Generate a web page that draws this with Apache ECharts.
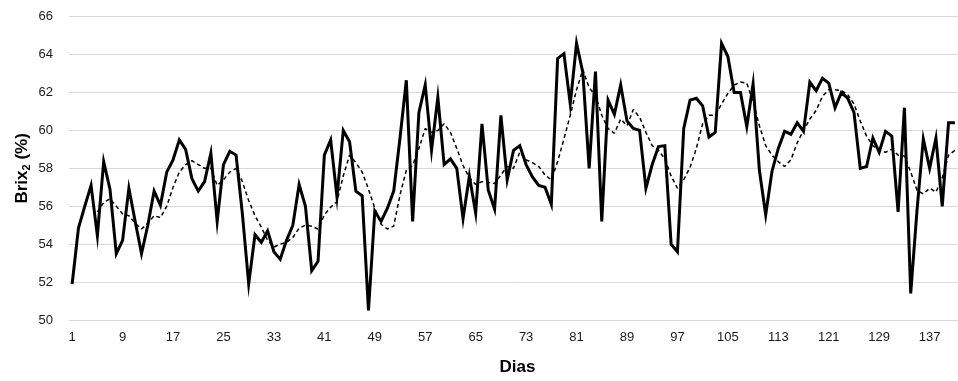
<!DOCTYPE html>
<html><head><meta charset="utf-8">
<script src="https://cdn.jsdelivr.net/npm/echarts@6/dist/echarts.min.js"></script>
<style>html,body{margin:0;padding:0;background:#fff;overflow:hidden}#c{width:958px;height:381px}</style>
</head><body><div id="c"></div>
<script>
// Days 1..141
const days = [];
for (let d = 1; d <= 141; d++) days.push(String(d));

// Brix2 (%) observed, day 1..141
const brix = [
51.9,54.85,56.0,57.1,54.45,58.35,56.9,53.5,54.2,56.95,
55.2,53.5,55.0,56.8,56.05,57.8,58.45,59.5,59.0,57.45,
56.8,57.3,58.8,55.2,58.2,58.9,58.7,55.6,51.9,54.5,
54.1,54.7,53.6,53.2,54.2,55.0,57.15,56.0,52.6,53.1,
58.7,59.5,56.5,60.0,59.4,56.8,56.55,50.5,55.75,55.2,
55.9,56.8,59.6,62.65,55.2,60.95,62.4,58.95,61.75,58.2,
58.5,58.0,55.35,57.6,55.65,60.35,56.85,55.85,60.8,57.4,
58.95,59.2,58.2,57.55,57.1,57.0,56.1,63.8,64.05,61.4,
64.6,63.05,58.0,63.1,55.2,61.6,60.85,62.4,60.5,60.1,
60.0,56.95,58.2,59.15,59.2,54.0,53.6,60.1,61.6,61.7,
61.3,59.65,59.9,64.6,63.9,62.0,62.0,60.2,62.45,57.9,
55.55,57.85,59.05,59.95,59.8,60.4,59.95,62.55,62.1,62.75,
62.5,61.2,62.0,61.7,60.95,58.0,58.1,59.6,58.85,59.95,
59.7,55.7,61.2,51.4,55.8,59.55,58.0,59.6,56.0,60.4,
60.4
];

// Moving-average curve (dashed); starts at day 5
const movingAvg = [
null,null,null,null,55.7,56.2,56.4,56.0,55.6,55.5,
55.1,54.8,55.1,55.5,55.4,56.0,57.0,57.8,58.2,58.4,
58.2,58.0,58.0,57.1,57.4,57.8,58.0,57.3,56.3,55.5,
54.9,54.2,53.85,54.0,54.1,54.35,54.85,55.0,54.95,54.8,
55.55,55.95,56.25,57.6,58.7,58.3,57.8,56.9,55.9,55.05,
54.8,54.95,56.6,57.9,58.15,59.05,60.1,59.9,60.0,60.35,
59.9,59.05,58.15,57.5,57.15,57.3,57.25,57.2,57.65,58.1,
58.0,58.85,58.45,58.3,58.1,57.65,57.4,58.35,59.55,60.8,
62.15,63.2,62.25,61.85,60.8,60.1,59.85,60.6,60.25,61.1,
60.7,59.9,59.2,58.95,58.5,57.6,56.95,57.4,58.05,59.05,
60.35,60.8,60.8,61.4,61.95,62.4,62.55,62.5,61.5,60.25,
59.2,58.7,58.35,58.1,58.45,59.35,60.0,60.6,61.05,61.8,
62.15,62.15,62.1,61.9,61.4,60.5,59.7,59.2,58.95,58.85,
59.0,58.7,58.65,57.8,56.85,56.65,56.95,56.75,57.5,58.7,
58.95
];

const yMin = 50, yMax = 66, yStep = 2;
const xLabelEvery = 8;

const chart = echarts.init(document.getElementById('c'), null, {renderer: 'canvas'});
chart.setOption({
  animation: false,
  backgroundColor: '#fff',
  textStyle: {fontFamily: 'Liberation Sans, Arial, sans-serif'},
  grid: {left: 69, right: -3, top: 16.7, bottom: 57.7, containLabel: false},
  xAxis: {
    type: 'category',
    data: days,
    boundaryGap: true,
    name: 'Dias',
    nameLocation: 'middle',
    nameGap: 39,
    nameMoveOverlap: false,
    nameTextStyle: {fontSize: 17, fontWeight: 'bold', color: '#000', fontFamily: 'Liberation Sans', padding: [0, 0, 0, 8]},
    axisLine: {show: true, lineStyle: {color: '#d9d9d9', width: 1}},
    axisTick: {show: false},
    axisLabel: {interval: xLabelEvery - 1, fontSize: 13, color: '#1a1a1a', margin: 11, fontFamily: 'Liberation Sans'},
    splitLine: {show: false}
  },
  yAxis: {
    type: 'value',
    min: yMin, max: yMax, interval: yStep,
    name: 'Brix{sub|2} (%)',
    nameLocation: 'middle',
    nameGap: 37,
    nameRotate: 90,
    nameMoveOverlap: false,
    nameTextStyle: {fontSize: 17, fontWeight: 'bold', color: '#000', fontFamily: 'Liberation Sans',
      rich: {sub: {fontSize: 11, fontWeight: 'bold', color: '#000', fontFamily: 'Liberation Sans', padding: [9, 0, 0, 0]}}},
    axisLine: {show: false},
    axisTick: {show: false},
    axisLabel: {fontSize: 13, color: '#1a1a1a', margin: 16, fontFamily: 'Liberation Sans'},
    splitLine: {show: true, lineStyle: {color: '#d9d9d9', width: 1}}
  },
  series: [
    {
      name: 'Brix2', type: 'line', data: brix, symbol: 'none',
      lineStyle: {color: '#000', width: 3, join: 'miter'}, z: 3
    },
    {
      name: 'Média móvel', type: 'line', data: movingAvg, symbol: 'none', smooth: false,
      connectNulls: false,
      lineStyle: {color: '#000', width: 1.5, type: [4, 3]}, z: 4
    }
  ]
});
</script>
</body></html>
